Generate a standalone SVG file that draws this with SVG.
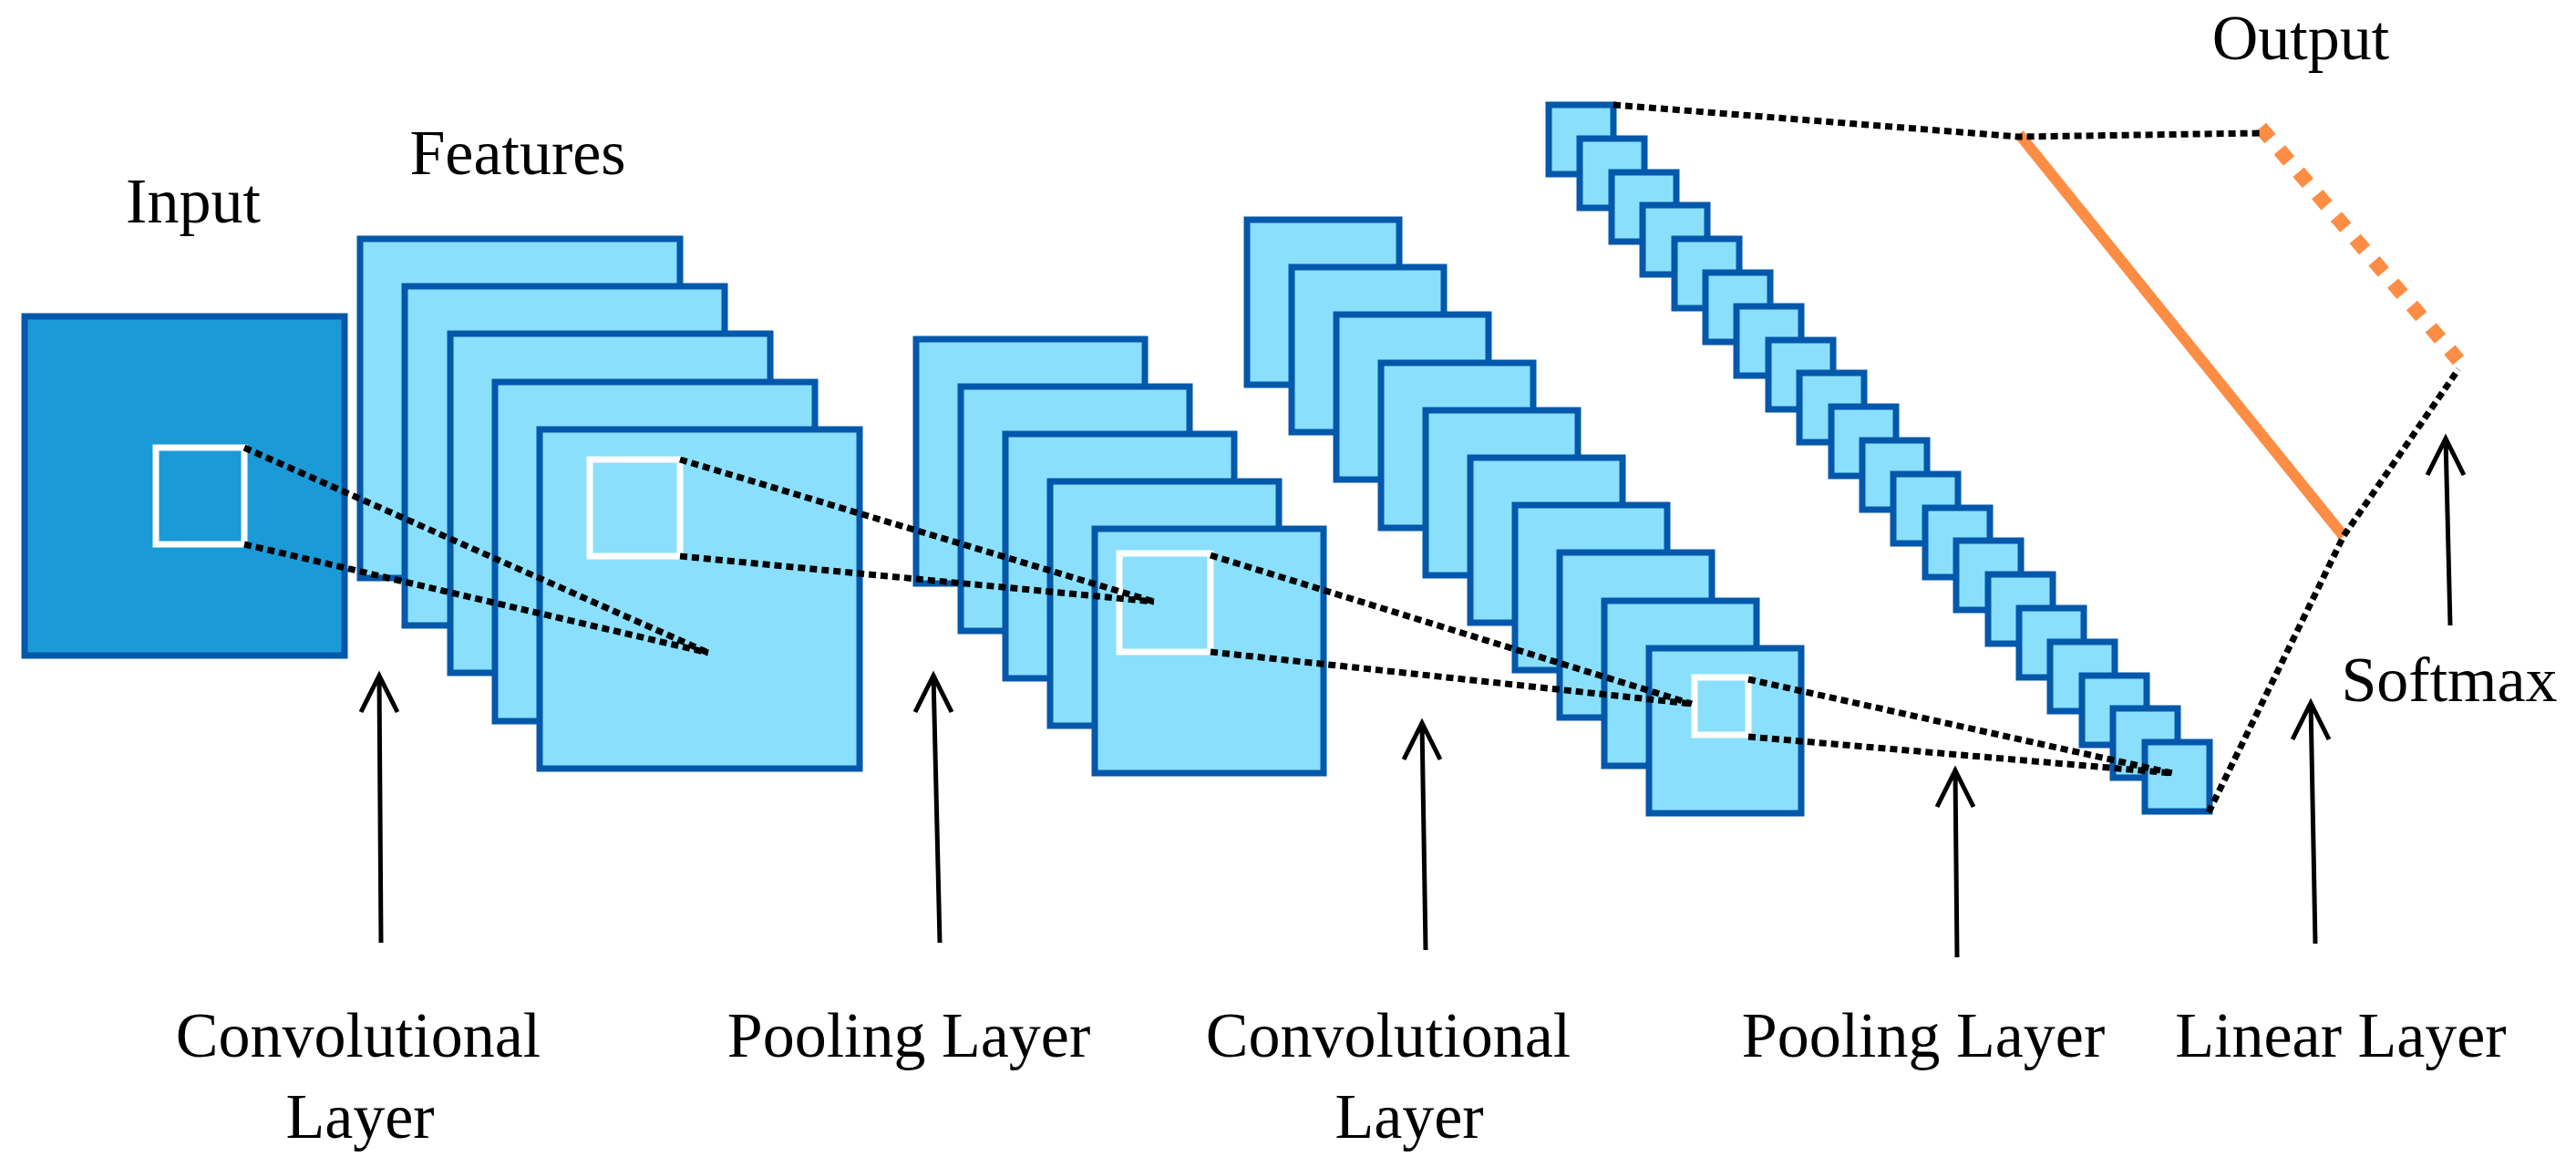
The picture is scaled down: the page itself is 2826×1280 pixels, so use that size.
<svg xmlns="http://www.w3.org/2000/svg" width="2826" height="1280" viewBox="0 0 2826 1280">
<style>
.fm{fill:#8ADFFD;stroke:#0358AB;stroke-width:7}
.in{fill:#1B9AD8;stroke:#0358AB;stroke-width:7}
.ws{fill:none;stroke:#FFFFFF;stroke-width:7}
.dot{fill:none;stroke:#000;stroke-width:7;stroke-dasharray:8 5}
.arr{fill:none;stroke:#000;stroke-width:5}
text{font-family:"Liberation Serif","Times New Roman",serif;font-size:70px;fill:#000;text-anchor:middle}
</style>
<rect width="2826" height="1280" fill="#fff"/>
<g id="input">
<rect class="in" x="27" y="347" width="351" height="372"/>
<rect class="ws" x="171" y="491" width="97" height="106"/>
</g>
<g id="features">
<rect class="fm" x="395" y="262" width="351" height="372"/>
<rect class="fm" x="444" y="314" width="351" height="372"/>
<rect class="fm" x="494" y="366" width="351" height="372"/>
<rect class="fm" x="543" y="419" width="351" height="372"/>
<rect class="fm" x="592" y="471" width="351" height="372"/>
<rect class="ws" x="647" y="504" width="99" height="106"/>
</g>
<g id="pool1">
<rect class="fm" x="1005" y="372" width="251" height="268"/>
<rect class="fm" x="1054" y="424" width="251" height="268"/>
<rect class="fm" x="1103" y="476" width="251" height="268"/>
<rect class="fm" x="1152" y="528" width="251" height="268"/>
<rect class="fm" x="1201" y="580" width="251" height="268"/>
<rect class="ws" x="1228" y="607" width="100" height="108"/>
</g>
<g id="conv2">
<rect class="fm" x="1368" y="241" width="167" height="181"/>
<rect class="fm" x="1417" y="293" width="167" height="181"/>
<rect class="fm" x="1466" y="345" width="167" height="181"/>
<rect class="fm" x="1515" y="398" width="167" height="181"/>
<rect class="fm" x="1564" y="450" width="167" height="181"/>
<rect class="fm" x="1613" y="502" width="167" height="181"/>
<rect class="fm" x="1662" y="554" width="167" height="181"/>
<rect class="fm" x="1711" y="606" width="167" height="181"/>
<rect class="fm" x="1760" y="659" width="167" height="181"/>
<rect class="fm" x="1809" y="711" width="167" height="181"/>
<rect class="ws" x="1859" y="743" width="59" height="63"/>
</g>
<g id="pool2">
<rect class="fm" x="1699" y="115" width="71" height="76"/>
<rect class="fm" x="1733" y="152" width="71" height="76"/>
<rect class="fm" x="1768" y="189" width="71" height="76"/>
<rect class="fm" x="1802" y="225" width="71" height="76"/>
<rect class="fm" x="1837" y="262" width="71" height="76"/>
<rect class="fm" x="1871" y="299" width="71" height="76"/>
<rect class="fm" x="1905" y="336" width="71" height="76"/>
<rect class="fm" x="1940" y="373" width="71" height="76"/>
<rect class="fm" x="1974" y="409" width="71" height="76"/>
<rect class="fm" x="2009" y="446" width="71" height="76"/>
<rect class="fm" x="2043" y="483" width="71" height="76"/>
<rect class="fm" x="2077" y="520" width="71" height="76"/>
<rect class="fm" x="2112" y="557" width="71" height="76"/>
<rect class="fm" x="2146" y="593" width="71" height="76"/>
<rect class="fm" x="2181" y="630" width="71" height="76"/>
<rect class="fm" x="2215" y="667" width="71" height="76"/>
<rect class="fm" x="2249" y="704" width="71" height="76"/>
<rect class="fm" x="2284" y="741" width="71" height="76"/>
<rect class="fm" x="2318" y="777" width="71" height="76"/>
<rect class="fm" x="2353" y="814" width="71" height="76"/>
</g>
<g id="linear">
<line x1="2215" y1="147" x2="2571" y2="588" stroke="#FD8D45" stroke-width="12"/>
</g>
<g id="output">
<line x1="2480" y1="140" x2="2697" y2="395" stroke="#FD8D45" stroke-width="16" stroke-dasharray="16 16"/>
</g>
<g id="connectors">
<path class="dot" d="M268 491 L777 716 M268 597 L777 716"/>
<path class="dot" d="M746 504 L1266 660 M746 610 L1266 660"/>
<path class="dot" d="M1328 609 L1856 772 M1328 715 L1856 772"/>
<path class="dot" d="M1918 745 L2383 848 M1918 808 L2383 848"/>
<path class="dot" d="M1770 115 L2215 150 L2480 146"/>
<path class="dot" d="M2423 891 L2571 588 L2697 405"/>
<path class="arr" d="M418 1034 L416 741 M396 781 L416 741 L436 781"/>
<path class="arr" d="M1031 1034 L1024 741 M1004 781 L1024 741 L1044 781"/>
<path class="arr" d="M1564 1042 L1560 793 M1540 833 L1560 793 L1580 833"/>
<path class="arr" d="M2147 1050 L2145 845 M2125 885 L2145 845 L2165 885"/>
<path class="arr" d="M2540 1035 L2535 771 M2515 811 L2535 771 L2555 811"/>
<path class="arr" d="M2688 686 L2683 481 M2663 521 L2683 481 L2703 521"/>
</g>
<g id="labels">
<text x="212" y="244">Input</text>
<text x="568" y="191">Features</text>
<text x="2524" y="65">Output</text>
<text x="2687" y="769">Softmax</text>
<text x="393" y="1159">Convolutional</text>
<text x="395" y="1248">Layer</text>
<text x="997" y="1159">Pooling Layer</text>
<text x="1523" y="1159">Convolutional</text>
<text x="1546" y="1248">Layer</text>
<text x="2110" y="1159">Pooling Layer</text>
<text x="2568" y="1159">Linear Layer</text>
</g>
</svg>
